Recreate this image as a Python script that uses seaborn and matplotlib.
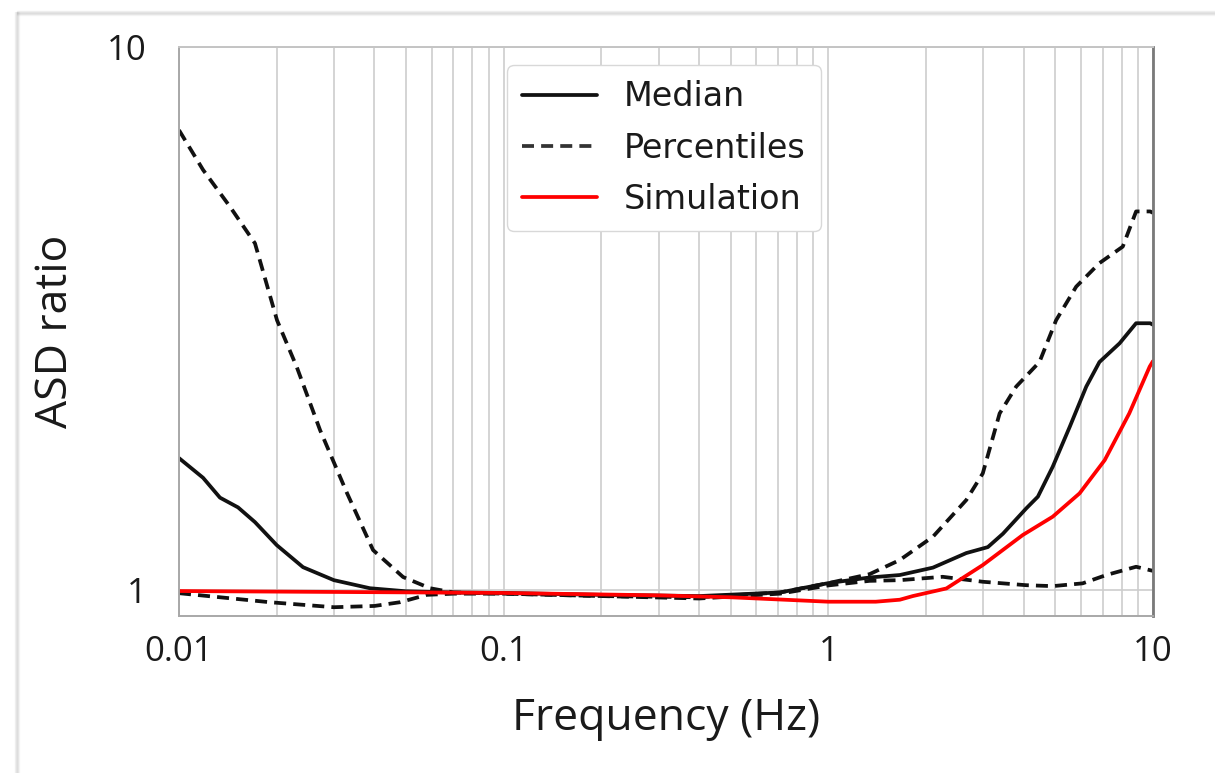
import numpy as np
import pandas as pd
import matplotlib
matplotlib.use("Agg")
import matplotlib.pyplot as plt
import seaborn as sns
from matplotlib.ticker import LogLocator, NullFormatter, FixedLocator, FixedFormatter
from matplotlib.lines import Line2D

# ---------------- data ----------------
freq_med = [0.01, 0.01186, 0.01337, 0.0152, 0.01714, 0.02, 0.0241, 0.03, 0.0387, 0.05, 0.07,
            0.1, 0.2, 0.4, 0.71, 1.0, 1.34, 1.66, 2.1, 2.66, 3.1, 3.45, 4.07, 4.42, 4.91,
            5.54, 6.23, 6.84, 7.89, 8.87, 9.8, 10.0]
median = [1.75, 1.61, 1.48, 1.42, 1.334, 1.21, 1.102, 1.043, 1.008, 0.995, 0.99,
          0.988, 0.98, 0.975, 0.99, 1.03, 1.055, 1.066, 1.1, 1.17, 1.2, 1.27, 1.414, 1.486, 1.687,
          1.998, 2.37, 2.63, 2.847, 3.1, 3.1, 3.08]

freq_up = [0.01, 0.01186, 0.01436, 0.01714, 0.02004, 0.02308, 0.0272, 0.0329, 0.0396, 0.049,
           0.0593, 0.07, 0.1, 0.2, 0.4, 0.71, 1.0, 1.34, 1.66, 2.1, 2.66, 2.99, 3.37, 3.79,
           4.47, 5.03, 5.8, 6.84, 8.07, 8.87, 9.8, 10.0]
pct_upper = [7.03, 5.94, 5.08, 4.35, 3.14, 2.57, 1.97, 1.51, 1.185, 1.057,
             1.008, 0.99, 0.985, 0.975, 0.97, 0.99, 1.03, 1.07, 1.136, 1.254, 1.465, 1.64, 2.115, 2.37,
             2.63, 3.14, 3.62, 4.0, 4.29, 4.98, 4.98, 4.95]

freq_lo = [0.01, 0.019, 0.03, 0.04, 0.048, 0.058, 0.07, 0.1, 0.2, 0.4, 0.71, 1.0, 1.34, 1.66,
           2.25, 2.99, 4.07, 4.91, 6.07, 7.18, 8.87, 9.8, 10.0]
pct_lower = [0.987, 0.95, 0.93, 0.935, 0.95, 0.98, 0.985, 0.985, 0.975, 0.965, 0.985, 1.02, 1.04, 1.043,
             1.058, 1.036, 1.021, 1.017, 1.029, 1.066, 1.104, 1.088, 1.085]

freq_sim = [0.01, 0.1, 0.3, 0.5, 1.0, 1.4, 1.66, 1.82, 2.31, 2.99, 3.97, 4.91, 5.94, 7.1, 8.45, 9.77, 10.0]
simulation = [0.996, 0.988, 0.978, 0.97, 0.952, 0.952, 0.96, 0.975, 1.007, 1.112, 1.263, 1.365,
              1.507, 1.735, 2.115, 2.58, 2.64]

x_ticks = [0.01, 0.1, 1, 10]
x_tick_labels = ["0.01", "0.1", "1", "10"]
y_ticks = [1, 10]
y_tick_labels = ["1", "10"]
legend_labels = ["Median", "Percentiles", "Simulation"]

# ---------------- style ----------------
sns.set_theme(style="white")
plt.rcParams["font.family"] = ["Open Sans", "DejaVu Sans"]

fig = plt.figure(figsize=(12.15, 7.73), dpi=100)
ax = fig.add_axes([179 / 1215, 1 - 616 / 773, (1153 - 179) / 1215, (616 - 47) / 773])

lw = 2.7
dash = (0, (3.2, 1.9))
sns.lineplot(x=freq_up, y=pct_upper, ax=ax, color="#111111", linewidth=lw, linestyle=dash)
sns.lineplot(x=freq_lo, y=pct_lower, ax=ax, color="#111111", linewidth=lw, linestyle=dash)
sns.lineplot(x=freq_med, y=median, ax=ax, color="#111111", linewidth=lw)
sns.lineplot(x=freq_sim, y=simulation, ax=ax, color="#ff0000", linewidth=lw)

ax.set_xscale("log")
ax.set_yscale("log")
ax.set_xlim(0.01, 10)
ax.set_ylim(0.896, 10)

ax.xaxis.set_major_locator(FixedLocator(x_ticks))
ax.xaxis.set_major_formatter(FixedFormatter(x_tick_labels))
ax.xaxis.set_minor_locator(LogLocator(base=10, subs=np.arange(2, 10)))
ax.xaxis.set_minor_formatter(NullFormatter())
ax.yaxis.set_major_locator(FixedLocator(y_ticks))
ax.yaxis.set_major_formatter(FixedFormatter(y_tick_labels))
ax.yaxis.set_minor_locator(LogLocator(base=10, subs=np.arange(2, 10)))
ax.yaxis.set_minor_formatter(NullFormatter())

grid_c = "#cdcdcd"
ax.grid(which="both", axis="x", color=grid_c, linewidth=1.2)
ax.grid(which="major", axis="y", color=grid_c, linewidth=1.2)
ax.set_axisbelow(True)

ax.tick_params(axis="both", which="both", direction="out", colors="#888888",
               labelcolor="#1a1a1a")
ax.tick_params(axis="x", which="major", length=5, width=1.2, pad=9, labelsize=25)
ax.tick_params(axis="x", which="minor", length=4, width=1.0)
ax.tick_params(axis="y", which="major", length=5, width=1.2, pad=18, labelsize=25)
ax.tick_params(axis="y", which="minor", length=3, width=1.0)

for side in ["left", "bottom", "top"]:
    ax.spines[side].set_color("#a8a8a8")
    ax.spines[side].set_linewidth(1.4)
ax.spines["top"].set_color("#c4c4c4")
ax.spines["right"].set_color("#7a7a7a")
ax.spines["right"].set_linewidth(2.0)

ax.set_xlabel("Frequency (Hz)", fontsize=32, color="#1a1a1a")
ax.set_ylabel("ASD ratio", fontsize=32, color="#1a1a1a")
ax.xaxis.set_label_coords(0.5, -0.142)
ax.yaxis.set_label_coords(-0.104, 0.5)

handles = [
    Line2D([], [], color="#111111", linewidth=lw),
    Line2D([], [], color="#333333", linewidth=lw, linestyle=dash),
    Line2D([], [], color="#ff0000", linewidth=lw),
]
leg = ax.legend(handles, legend_labels, loc="upper left", bbox_to_anchor=(0.337, 0.968),
                borderaxespad=0, frameon=True, fancybox=True, framealpha=1,
                edgecolor="#d8d8d8", handlelength=2.25, handletextpad=0.8,
                labelspacing=0.55, borderpad=0.45,
                prop={"family": "DejaVu Sans", "size": 24})
for t in leg.get_texts():
    t.set_color("#1a1a1a")

# soft screenshot-like shadow on top and left edges
for i, a in enumerate([0.10, 0.16, 0.22, 0.14, 0.06]):
    yy = 1 - (11 + i) / 773
    fig.add_artist(Line2D([17 / 1215, 1.0], [yy, yy], transform=fig.transFigure,
                          color="#808080", alpha=a, linewidth=1.0))
    xx = (15 + i) / 1215
    fig.add_artist(Line2D([xx, xx], [0, 1 - 12 / 773], transform=fig.transFigure,
                          color="#808080", alpha=a, linewidth=1.0))

fig.savefig("out.png", dpi=100, facecolor="white")
